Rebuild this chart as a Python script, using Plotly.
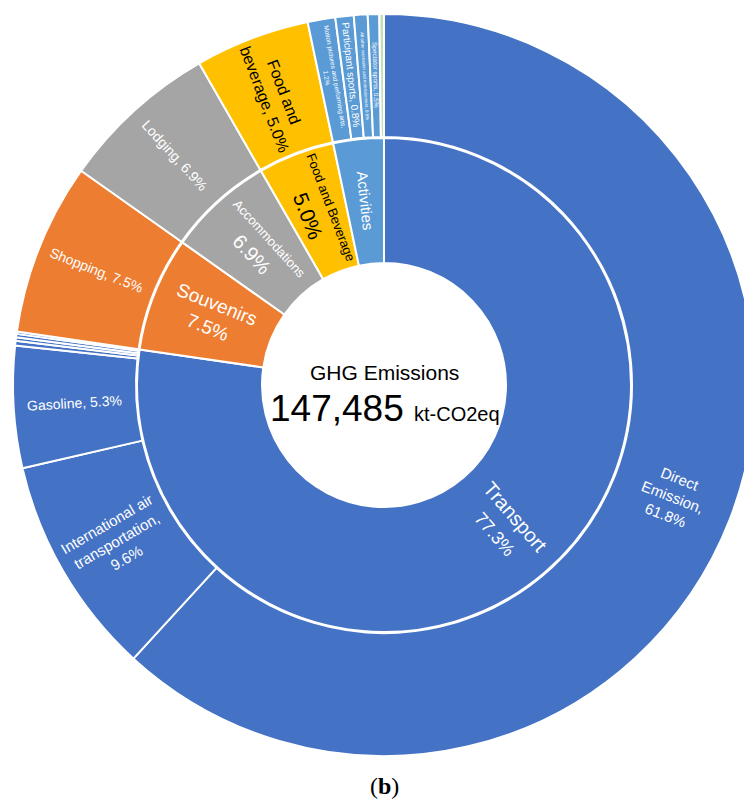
import math
import plotly.graph_objects as go

# Spending categories (inner ring), share of total GHG emissions in %
categories = ["Transport", "Souvenirs", "Accommodations", "Food and Beverage", "Activities"]
category_shares = [77.3, 7.5, 6.9, 5.0, 3.3]

# Emission sources (outer ring), each grouped under its spending category
sources = [
    "Direct Emission", "International air transportation", "Gasoline",
    "Domestic air transportation", "Rail transportation", "Bus transportation", "Water transportation",
    "Shopping", "Lodging", "Food and beverage",
    "Motion pictures and performing arts", "Participant sports",
    "All other recreation and entertainment", "Spectator sports", "Other activities",
]
source_parents = [
    "Transport", "Transport", "Transport",
    "Transport", "Transport", "Transport", "Transport",
    "Souvenirs", "Accommodations", "Food and Beverage",
    "Activities", "Activities", "Activities", "Activities", "Activities",
]
source_shares = [61.8, 9.6, 5.3, 0.2, 0.15, 0.15, 0.1, 7.5, 6.9, 5.0, 1.2, 0.8, 0.6, 0.5, 0.2]

# Sources that carry a printed label
labelled_sources = [
    "Direct Emission", "International air transportation", "Gasoline", "Shopping", "Lodging",
    "Food and beverage", "Motion pictures and performing arts", "Participant sports",
    "All other recreation and entertainment", "Spectator sports",
]

total_emissions = 147485  # kt-CO2eq

# ---- styling ----
W, H = 770, 800                 # page is wider than the viewport so the ring is cut on the right
CX, CY = 384, 385               # ring centre, px
R_OUT, R_SPLIT, R_IN, R_HOLE = 371, 248, 247, 122

category_colors = {
    "Transport": "#4472C4",
    "Souvenirs": "#ED7D31",
    "Accommodations": "#A5A5A5",
    "Food and Beverage": "#FFC000",
    "Activities": "#5B9BD5",
}
special_colors = {"Other activities": "#C5E0B4"}
dark_text = {"Food and Beverage", "Food and beverage"}

FONT = "Liberation Sans, Arial, sans-serif"

outer_font = {
    "Direct Emission": 15, "International air transportation": 15, "Gasoline": 14,
    "Shopping": 14, "Lodging": 14, "Food and beverage": 16,
    "Motion pictures and performing arts": 6.5, "Participant sports": 10,
    "All other recreation and entertainment": 4.5, "Spectator sports": 6.5,
}
outer_breaks = {
    "Direct Emission": [1, 2],
    "International air transportation": [2, 3],
    "Food and beverage": [2],
    "Motion pictures and performing arts": [5],
}
outer_radius = {"Motion pictures and performing arts": 312, "Participant sports": 312}
inner_font = {
    "Transport": (20, 18), "Souvenirs": (19, 19), "Accommodations": (13, 20),
    "Food and Beverage": (13, 21), "Activities": (15, None),
}


def paper(px, py):
    return px / W, 1 - py / H


def mid_angles(values):
    total = sum(values)
    out, acc = [], 0.0
    for v in values:
        out.append((acc + v / 2) / total * 360.0)
        acc += v
    return out


def radial_angle(theta):
    rot = theta - 90
    if rot > 90:
        rot -= 180
    return rot


def wrap(words_text, breaks):
    words = words_text.split(" ")
    parts, line = [], []
    for i, w in enumerate(words):
        line.append(w)
        if i + 1 in breaks:
            parts.append(" ".join(line))
            line = []
    if line:
        parts.append(" ".join(line))
    return "<br>".join(parts)


fig = go.Figure()

# outer ring
ox0, oy1 = paper(CX - R_OUT, CY - R_OUT)
ox1, oy0 = paper(CX + R_OUT, CY + R_OUT)
fig.add_trace(go.Pie(
    labels=sources, values=source_shares, sort=False, direction="clockwise", rotation=0,
    hole=R_SPLIT / R_OUT, textinfo="none", hoverinfo="label+value",
    marker=dict(colors=[special_colors.get(s, category_colors[p]) for s, p in zip(sources, source_parents)],
                line=dict(color="white", width=2)),
    domain=dict(x=[ox0, ox1], y=[oy0, oy1]), showlegend=False,
))

# inner ring
ix0, iy1 = paper(CX - R_IN, CY - R_IN)
ix1, iy0 = paper(CX + R_IN, CY + R_IN)
fig.add_trace(go.Pie(
    labels=categories, values=category_shares, sort=False, direction="clockwise", rotation=0,
    hole=R_HOLE / R_IN, textinfo="none", hoverinfo="label+value",
    marker=dict(colors=[category_colors[c] for c in categories], line=dict(color="white", width=2)),
    domain=dict(x=[ix0, ix1], y=[iy0, iy1]), showlegend=False,
))

annotations = []

# outer ring labels, oriented radially
for name, share, theta in zip(sources, source_shares, mid_angles(source_shares)):
    if name not in labelled_sources:
        continue
    r = outer_radius.get(name, 310)
    px = CX + r * math.sin(math.radians(theta))
    py = CY - r * math.cos(math.radians(theta))
    x, y = paper(px, py)
    text = wrap(f"{name}, {share:.1f}%", outer_breaks.get(name, []))
    annotations.append(dict(
        x=x, y=y, xref="paper", yref="paper", text=text, showarrow=False,
        textangle=radial_angle(theta), xanchor="center", yanchor="middle",
        font=dict(family=FONT, size=outer_font[name], color="black" if name in dark_text else "white"),
    ))

# inner ring labels
for name, share, theta in zip(categories, category_shares, mid_angles(category_shares)):
    r = 185
    px = CX + r * math.sin(math.radians(theta))
    py = CY - r * math.cos(math.radians(theta))
    x, y = paper(px, py)
    s1, s2 = inner_font[name]
    text = f"<span style='font-size:{s1}px'>{name}</span>"
    if s2:
        text += f"<br><span style='font-size:{s2}px'>{share:.1f}%</span>"
    annotations.append(dict(
        x=x, y=y, xref="paper", yref="paper", text=text, showarrow=False,
        textangle=radial_angle(theta), xanchor="center", yanchor="middle",
        font=dict(family=FONT, size=max(s1, s2 or 0), color="black" if name in dark_text else "white"),
    ))

# centre text
gx, gy = paper(CX, 372)
annotations.append(dict(x=gx, y=gy, xref="paper", yref="paper", text="GHG Emissions", showarrow=False,
                        xanchor="center", yanchor="middle", font=dict(family=FONT, size=21, color="black")))
tx, ty = paper(CX + 1, 408)
annotations.append(dict(
    x=tx, y=ty, xref="paper", yref="paper", showarrow=False, xanchor="center", yanchor="middle",
    text=f"<span style='font-size:37px'>{total_emissions:,}</span> <span style='font-size:20px'>kt-CO2eq</span>",
    font=dict(family=FONT, size=37, color="black"),
))

# panel caption
cx_, cy_ = paper(CX, 786)
annotations.append(dict(x=cx_, y=cy_, xref="paper", yref="paper", text="(<b>b</b>)", showarrow=False,
                        xanchor="center", yanchor="middle",
                        font=dict(family="Liberation Serif, Times New Roman, serif", size=24, color="black")))

fig.update_layout(
    width=W, height=H, margin=dict(l=0, r=0, t=0, b=0),
    paper_bgcolor="white", plot_bgcolor="white",
    annotations=annotations,
)

fig.write_html(
    "out.html",
    post_script="document.documentElement.style.overflow='hidden';document.body.style.overflow='hidden';",
)
